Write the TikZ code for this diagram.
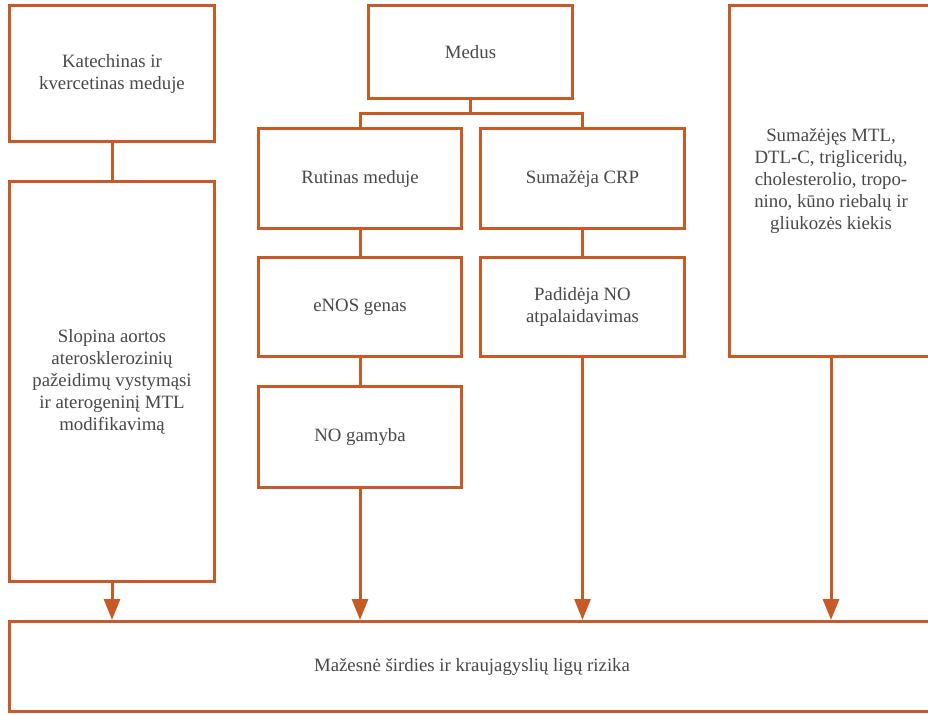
\documentclass[tikz,border=0pt]{standalone}
\usepackage{fontspec}
\setmainfont{Liberation Serif}
\usetikzlibrary{arrows.meta}
\definecolor{rust}{RGB}{200,90,40}
\definecolor{ink}{RGB}{72,72,72}
\begin{document}
\begin{tikzpicture}[x=1pt,y=-1pt,
  box/.style={draw=rust, line width=3pt, fill=white, inner sep=4pt,
    align=center, text=ink, font=\fontsize{18.8}{22}\selectfont},
  link/.style={draw=rust, line width=3pt},
  flow/.style={draw=rust, line width=3pt,
    -{Triangle[length=21pt,width=16pt]}}]
\useasboundingbox (0,0) rectangle (928,715);
\clip (0,0) rectangle (928,715);
% boxes
\node[box, minimum width=205pt, minimum height=136pt] (kat) at (112,73.5)
  {Katechinas ir\\kvercetinas meduje};
\node[box, minimum width=205pt, minimum height=400pt] (slop) at (112,381.5)
  {Slopina aortos\\aterosklerozinių\\pažeidimų vystymąsi\\ir aterogeninį MTL\\modifikavimą};
\node[box, minimum width=204pt, minimum height=93pt] (medus) at (470.5,52) {Medus};
\node[box, minimum width=203pt, minimum height=100pt] (rut) at (360,178.5) {Rutinas meduje};
\node[box, minimum width=204pt, minimum height=100pt] (crp) at (582.5,178.5) {Sumažėja CRP};
\node[box, minimum width=203pt, minimum height=99pt] (enos) at (360,307) {eNOS genas};
\node[box, minimum width=204pt, minimum height=99pt] (pad) at (582.5,307)
  {Padidėja NO\\atpalaidavimas};
\node[box, minimum width=203pt, minimum height=101pt] (nog) at (360,437) {NO gamyba};
\node[box, minimum width=203pt, minimum height=351pt] (lip) at (831,181)
  {Sumažėjęs MTL,\\DTL-C, trigliceridų,\\cholesterolio, tropo-\\nino, kūno riebalų ir\\gliukozės kiekis};
\node[box, minimum width=925pt, minimum height=90pt] (risk) at (472,666.5)
  {Mažesnė širdies ir kraujagyslių ligų rizika};
% plain connectors
\coordinate (split) at (470.5,113);
\draw[link] (kat.south) -- (slop.north);
\draw[link] (medus.south) -- (split);
\draw[link] (rut.north) |- (split) -| (crp.north);
\draw[link] (rut.south) -- (enos.north);
\draw[link] (enos.south) -- (nog.north);
\draw[link] (crp.south) -- (pad.north);
% arrows into the outcome
\draw[flow] (slop.south) -- (slop.south |- risk.north);
\draw[flow] (nog.south) -- (nog.south |- risk.north);
\draw[flow] (pad.south) -- (pad.south |- risk.north);
\draw[flow] (lip.south) -- (lip.south |- risk.north);
\end{tikzpicture}
\end{document}
